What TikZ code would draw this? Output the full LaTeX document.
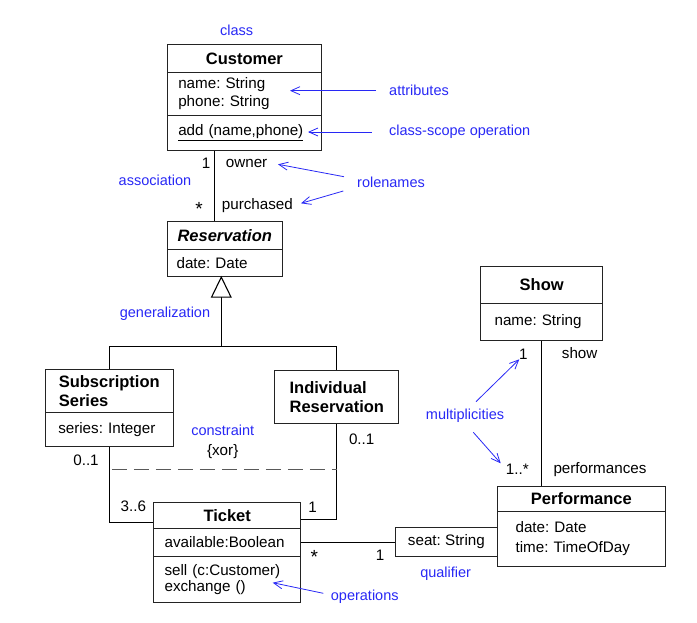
\documentclass[tikz,border=0pt]{standalone}
\usepackage{fontspec}
\setmainfont{Liberation Sans}
\usetikzlibrary{arrows.meta,calc}
\definecolor{ann}{RGB}{40,40,245}
\definecolor{boxc}{RGB}{35,35,35}
\newcommand\myBody{\fontsize{15.2}{18}\selectfont}
\newcommand\myTitle{\fontsize{16.5}{18.3}\selectfont\bfseries}
\newcommand\myAnn{\fontsize{14.5}{17}\selectfont}
\frenchspacing
\begin{document}
\frenchspacing
\begin{tikzpicture}[x=1pt,y=-1pt,
  every node/.style={font=\myBody},
  title/.style 2 args={draw=boxc, line width=1.1pt, anchor=north west, minimum width=#1, minimum height=#2, inner sep=0pt, align=center, font=\myTitle},
  titleL/.style 2 args={draw=boxc, line width=1.1pt, anchor=north west, minimum width=#1, minimum height=#2, inner sep=0pt, align=left, font=\myTitle},
  comp/.style n args={3}{draw=boxc, line width=1.1pt, anchor=north west, minimum height=#2, text width=#1, inner xsep=#3, inner ysep=0pt, align=left},
  conn/.style={draw=black, line width=1.1pt},
  annot/.style={text=ann, font=\myAnn, inner sep=0pt},
  annarrow/.style={draw=ann, line width=0.8pt, -{Straight Barb[length=9pt,width=8pt]}},
  lbl/.style={inner sep=0pt},
  star/.style={inner sep=0pt, font=\fontsize{19}{19}\selectfont}
]
\useasboundingbox (0,0) rectangle (697,622);

% ---------- classes ----------
\node[title={154.3}{27.4}] (cust) at (166.7,44.3) {Customer};
\node[comp={132.3}{43.3}{11}] (custA) at (166.7,71.7) {name: String\\phone: String};
\node[comp={132.3}{35}{11}] (custO) at (166.7,115) {\underline{add (name,phone)}};

\node[title={115}{28.3}] (res) at (166.7,221) {\textit{Reservation}};
\node[comp={96.4}{26.7}{9.3}] (resA) at (166.7,249.3) {date: Date};

\node[titleL={128}{42.4}] (sub) at (44.7,369.3) {Subscription\\Series};
\node[comp={102}{34.3}{13}] (subA) at (44.7,411.7) {series: Integer};

\node[titleL={124}{53}] (ind) at (274.3,370.3) {Individual\\[1pt]Reservation};

\node[title={146.7}{25.7}] (tic) at (153.3,502.3) {Ticket};
\node[comp={125.3}{27.7}{10.7}] (ticA) at (153.3,528) {available:Boolean};
\node[comp={125.3}{46.6}{10.7}, font=\fontsize{15.2}{16.4}\selectfont] (ticO) at (153.3,555.7) {sell (c:Customer)\\exchange ()};

\node[title={122.3}{37}] (show) at (480,265.7) {Show};
\node[comp={94.3}{37.3}{14}] (showA) at (480,302.7) {name: String};

\node[title={168.3}{25.6}] (perf) at (496.7,485.7) {Performance};
\node[comp={131.7}{54.4}{18.3}, font=\fontsize{15.2}{20}\selectfont] (perfA) at (496.7,511.3) {date: Date\\time: TimeOfDay\\[-4pt]};

\node[draw=boxc, line width=1.1pt, anchor=north west, minimum width=101.7, minimum height=29, inner sep=0pt] (seat) at (395,526.7) {seat: String};

% ---------- connectors ----------
\draw[conn] ([xshift=47.6]custO.south west) -- ([xshift=47.6]res.north west);

\coordinate (gapex) at ([xshift=54.6]resA.south west);
\coordinate (gbase) at ($(gapex)+(0,20)$);
\coordinate (gj) at ($(gapex)+(0,69.3)$);
\draw[conn] (gbase) -- (gj);
\draw[conn] (sub.north) |- (gj) -| (ind.north);
\draw[conn, fill=white, line join=miter] (gapex) -- ++(-9.7,20) -- ++(19.4,0) -- cycle;

\draw[conn] (subA.south) |- ([yshift=-6.8]tic.west);
\draw[conn] (ind.south) |- ([yshift=-3.5]tic.east);
\coordinate (xorL) at (subA.south |- 0,469.3);
\coordinate (xorR) at (ind.south |- 0,469.3);
\draw[draw=black!65, line width=1.1pt, dash pattern=on 15pt off 7pt, dash phase=19.3pt] (xorL) -- (xorR);

\draw[conn] (ticA.east) -- (ticA.east -| seat.west);
\draw[conn] (showA.south) -- (showA.south |- perf.north);

% ---------- labels ----------
\node[lbl] (m1) at (206,163) {1};
\node[lbl, anchor=west] (rOwner) at (225.7,163) {owner};
\node[star] (m2) at (199,209) {*};
\node[lbl, anchor=west] (rPurch) at (221.7,206) {purchased};
\node[lbl] (xor) at (222.7,451.7) {\{xor\}};
\node[lbl] (m3) at (86,460) {0..1};
\node[lbl] (m4) at (361.7,439) {0..1};
\node[lbl] (m5) at (133.3,506.7) {3..6};
\node[lbl] (m6) at (312.7,507.3) {1};
\node[star] (m7) at (314.3,557.3) {*};
\node[lbl] (m8) at (380,555) {1};
\node[lbl] (m9) at (523.3,354.3) {1};
\node[lbl, anchor=west] (rShow) at (561.7,352.7) {show};
\node[lbl] (m10) at (517.3,469.3) {1..*};
\node[lbl, anchor=west] (rPerf) at (553.3,469.3) {performances};

% ---------- annotations ----------
\node[annot] (aClass) at (236.7,30) {class};
\node[annot, anchor=west] (aAttr) at (389,90.7) {attributes};
\node[annot, anchor=west] (aScope) at (389,132) {class-scope operation};
\node[annot] (aAssoc) at (155,180) {association};
\node[annot, anchor=west] (aRole) at (357,182.7) {rolenames};
\node[annot] (aGen) at (165,314) {generalization};
\node[annot] (aCons) at (222.7,430.7) {constraint};
\node[annot, anchor=west] (aOps) at (330.7,596.7) {operations};
\node[annot] (aMult) at (465,416) {multiplicities};
\node[annot] (aQual) at (445.7,574) {qualifier};

\coordinate (tAttr) at (290,90.7);
\coordinate (tScope) at (308,132);
\coordinate (tOwner) at (278,164.3);
\coordinate (tPurch) at (301,203.3);
\coordinate (tOps) at (272.7,582.7);
\coordinate (tM1) at (519.3,359.3);
\coordinate (tM2) at (500.7,463.3);

\draw[annarrow] ([xshift=-13]aAttr.west) -- (tAttr);
\draw[annarrow] ([xshift=-17.3]aScope.west) -- (tScope);
\draw[annarrow] ($(aRole.west)+(-13,-6)$) -- (tOwner);
\draw[annarrow] ($(aRole.west)+(-13.7,8.3)$) -- (tPurch);
\draw[annarrow] ($(aOps.west)+(-7.4,-3.4)$) -- (tOps);
\draw[annarrow] (476,401.7) -- (tM1);
\draw[annarrow] (473.3,432.3) -- (tM2);
\end{tikzpicture}
\end{document}
